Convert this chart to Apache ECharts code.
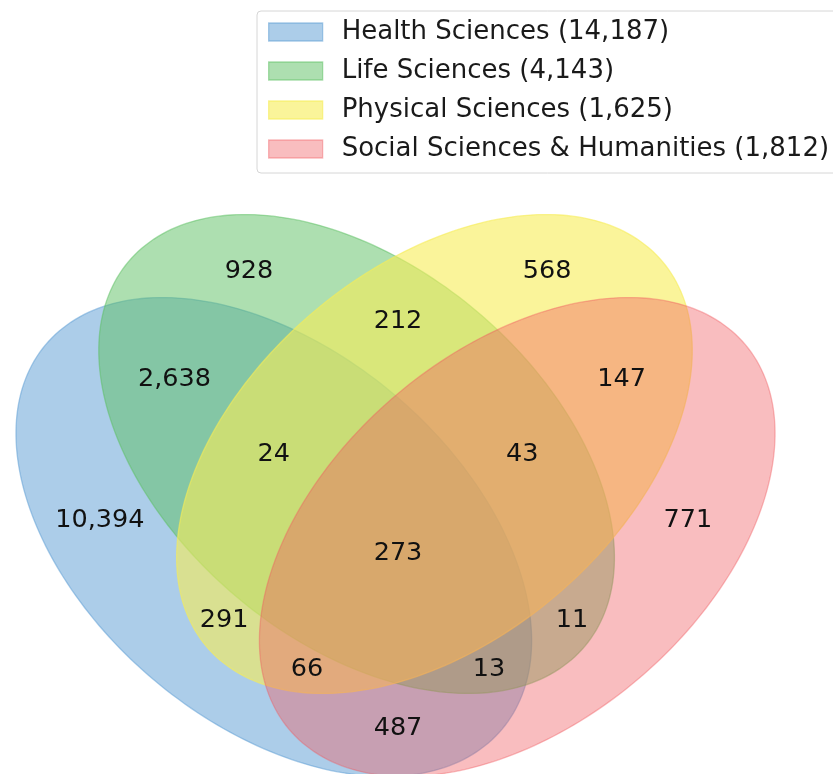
<!DOCTYPE html>
<html>
<head>
<meta charset="utf-8">
<script src="https://cdn.jsdelivr.net/npm/echarts@6/dist/echarts.min.js"></script>
<style>
  html, body { margin: 0; padding: 0; background: #fff; }
  #chart { width: 833px; height: 774px; }
</style>
</head>
<body>
<div id="chart"></div>
<script>
// sets and their totals
const setNames = ['Health Sciences', 'Life Sciences', 'Physical Sciences', 'Social Sciences & Humanities']
const setTotals = [14187, 4143, 1625, 1812]

// region keys (membership H L P S) and their counts
const regionKeys = ['1000', '0100', '0010', '0001', '1100', '0110', '0011', '1010', '0101', '1001',
  '1110', '0111', '1111', '1011', '1101']
const regionCounts = [10394, 928, 568, 771, 2638, 212, 147, 291, 11, 487,
  24, 43, 273, 66, 13]

// layout of the four-ellipse diagram (unit square)
const setColors = ['rgba(90,155,212,0.5)', 'rgba(92,192,98,0.5)', 'rgba(246,236,86,0.6)', 'rgba(241,90,96,0.4)']
const ellipseLayout = [
  [0.350, 0.400, 0.72, 0.45, 140],
  [0.450, 0.500, 0.72, 0.45, 140],
  [0.544, 0.500, 0.72, 0.45, 40],
  [0.644, 0.400, 0.72, 0.45, 40]
]
const labelAnchors = {
  '0001': [0.85, 0.42], '0010': [0.68, 0.72], '0011': [0.77, 0.59], '0100': [0.32, 0.72],
  '0101': [0.71, 0.30], '0110': [0.50, 0.66], '0111': [0.65, 0.50], '1000': [0.14, 0.42],
  '1001': [0.50, 0.17], '1010': [0.29, 0.30], '1011': [0.39, 0.24], '1100': [0.23, 0.59],
  '1101': [0.61, 0.24], '1110': [0.35, 0.50], '1111': [0.50, 0.38]
}

const fmt = v => Number(v).toLocaleString('en-US')
const legendNames = setNames.map((n, i) => n + ' (' + fmt(setTotals[i]) + ')')
const FONT = "'DejaVu Sans', sans-serif"

const chart = echarts.init(document.getElementById('chart'))

const ellipseSeries = ellipseLayout.map((geo, i) => ({
  name: legendNames[i],
  type: 'custom',
  coordinateSystem: 'cartesian2d',
  silent: true,
  itemStyle: { color: setColors[i] },
  data: [geo],
  renderItem: (params, api) => {
    const cx = api.value(0), cy = api.value(1)
    const a = api.value(2) / 2, b = api.value(3) / 2
    const ang = api.value(4) * Math.PI / 180
    const pts = []
    for (let k = 0; k < 240; k++) {
      const t = 2 * Math.PI * k / 240
      const ex = a * Math.cos(t), ey = b * Math.sin(t)
      pts.push(api.coord([
        cx + ex * Math.cos(ang) - ey * Math.sin(ang),
        cy + ex * Math.sin(ang) + ey * Math.cos(ang)
      ]))
    }
    return {
      type: 'polygon',
      shape: { points: pts },
      style: { fill: setColors[i], stroke: setColors[i], lineWidth: 1.3 }
    }
  }
}))

const labelSeries = {
  type: 'custom',
  coordinateSystem: 'cartesian2d',
  silent: true,
  data: regionKeys.map((k, i) => [labelAnchors[k][0], labelAnchors[k][1], regionCounts[i]]),
  renderItem: (params, api) => {
    const p = api.coord([api.value(0), api.value(1)])
    return {
      type: 'text',
      x: p[0],
      y: p[1],
      style: {
        text: fmt(api.value(2)),
        fontFamily: FONT,
        fontSize: 25.5,
        fill: '#111',
        align: 'center',
        verticalAlign: 'middle'
      }
    }
  }
}

chart.setOption({
  animation: false,
  backgroundColor: '#fff',
  grid: { left: 0, right: 0, top: 0, bottom: 0 },
  xAxis: { type: 'value', min: 0.01932, max: 1.02536, show: false },
  yAxis: { type: 'value', min: 0.11446, max: 1.04699, show: false },
  legend: {
    orient: 'vertical',
    left: 257,
    top: 11,
    padding: [7, 40, 10, 11],
    itemWidth: 54,
    itemHeight: 18,
    itemGap: 11,
    icon: 'rect',
    backgroundColor: '#fff',
    borderColor: '#d6d6d6',
    borderWidth: 1,
    borderRadius: 4,
    selectedMode: false,
    textStyle: { fontFamily: FONT, fontSize: 26, color: '#1a1a1a', lineHeight: 28, padding: [0, 0, 0, 14] },
    data: legendNames.map((n, i) => ({
      name: n,
      itemStyle: { color: setColors[i], borderColor: setColors[i], borderWidth: 1.3 }
    }))
  },
  series: [...ellipseSeries, labelSeries]
})

window.addEventListener('resize', () => chart.resize())
</script>
</body>
</html>
